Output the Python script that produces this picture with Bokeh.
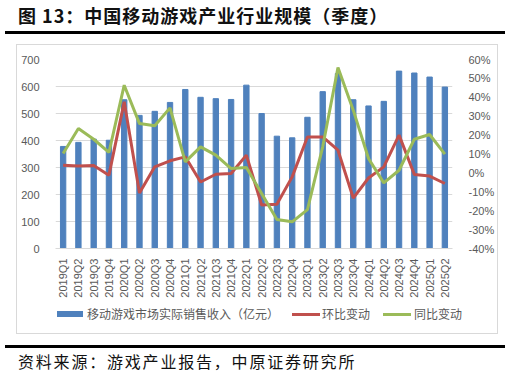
import math
from bokeh.plotting import figure
from bokeh.layouts import column, row
from bokeh.models import (FactorRange, Range1d, LinearAxis, SingleIntervalTicker,
                          PrintfTickFormatter, Div, Spacer)
from bokeh.embed import file_html
from bokeh.resources import INLINE

quarters = ["2019Q1", "2019Q2", "2019Q3", "2019Q4", "2020Q1", "2020Q2", "2020Q3", "2020Q4",
            "2021Q1", "2021Q2", "2021Q3", "2021Q4", "2022Q1", "2022Q2", "2022Q3", "2022Q4",
            "2023Q1", "2023Q2", "2023Q3", "2023Q4", "2024Q1", "2024Q2", "2024Q3", "2024Q4",
            "2025Q1", "2025Q2"]
revenue = [378, 393, 405, 401, 551, 493, 508, 541, 589, 560, 555, 552, 605, 500, 416, 410,
           486, 581, 648, 551, 528, 545, 657, 650, 635, 598]
qoq = [4.1, 3.7, 3.9, -1.2, 37.6, -10.6, 3.2, 6.4, 8.5, -4.8, -0.7, -0.3, 9.4, -17.0, -16.6,
       -2.1, 19.0, 19.0, 12.0, -13.3, -2.7, 3.2, 20.0, -0.8, -1.7, -5.6]
yoy = [10.3, 23.5, 17.8, 10.8, 46.4, 26.1, 24.9, 34.4, 5.8, 13.8, 9.4, 2.3, 2.9, -10.9, -24.7,
       -25.9, -19.4, 13.8, 55.8, 33.2, 7.6, -5.3, 1.4, 17.8, 20.3, 9.9]

title_text = "图 13：中国移动游戏产业行业规模（季度）"
source_text = "资料来源：游戏产业报告，中原证券研究所"
legend_labels = ["移动游戏市场实际销售收入（亿元）", "环比变动", "同比变动"]

BLUE = "#4F81BD"
RED = "#C0504D"
GREEN = "#9BBB59"
GRAY_TXT = "#595959"
GRID = "#D9D9D9"
CJK = "Noto Sans CJK SC"
LAT = "Liberation Sans"

title_div = Div(text=title_text, width=500, height=34, margin=(0, 5, 0, 5),
                styles={"font-family": CJK, "font-size": "18px", "font-weight": "bold",
                        "letter-spacing": "1px", "color": "#111111", "line-height": "31px",
                        "padding-left": "13px", "border-bottom": "3px solid black"})

# main chart
p = figure(width=480, height=257, x_range=FactorRange(*quarters, range_padding=0),
           y_range=Range1d(0, 700), output_backend="svg", toolbar_location=None,
           min_border_left=38, min_border_right=44, min_border_top=14, min_border_bottom=54)
p.outline_line_color = None
p.background_fill_color = "white"
p.border_fill_color = "white"
p.extra_y_ranges = {"pct": Range1d(-40, 60)}

bars = p.vbar(x=quarters, top=revenue, width=0.35, color=BLUE)
l1 = p.line(x=quarters, y=qoq, y_range_name="pct", line_color=RED, line_width=3)
l2 = p.line(x=quarters, y=yoy, y_range_name="pct", line_color=GREEN, line_width=3)

ly = p.yaxis[0]
ly.ticker = SingleIntervalTicker(interval=100)
ry = LinearAxis(y_range_name="pct", ticker=SingleIntervalTicker(interval=10),
                formatter=PrintfTickFormatter(format="%d%%"))
p.add_layout(ry, "right")
for ax in [ly, ry]:
    ax.axis_line_color = None
    ax.major_tick_line_color = None
    ax.minor_tick_line_color = None
    ax.major_label_text_color = GRAY_TXT
    ax.major_label_text_font = LAT
    ax.major_label_text_font_size = "11px"
    ax.major_label_standoff = 10

xa = p.xaxis[0]
xa.axis_line_color = GRID
xa.major_tick_line_color = None
xa.minor_tick_line_color = None
xa.major_label_orientation = math.pi / 2
xa.major_label_text_color = GRAY_TXT
xa.major_label_text_font = LAT
xa.major_label_text_font_size = "11px"
xa.major_label_standoff = 4

p.xgrid.grid_line_color = None
p.ygrid.grid_line_color = GRID

# legend strip under the chart
def swatch(left, width, height, color):
    return (f'<span style="position:absolute;left:{left}px;top:{12 - height / 2}px;'
            f'width:{width}px;height:{height}px;background:{color};"></span>')

def label(left, text):
    return (f'<span style="position:absolute;left:{left}px;top:0px;line-height:24px;'
            f'white-space:nowrap;">{text}</span>')

legend_html = ('<div style="position:relative;width:480px;height:31px;">'
               + swatch(40, 26, 6, BLUE) + label(70, legend_labels[0])
               + swatch(275, 28, 3, RED) + label(305, legend_labels[1])
               + swatch(366, 28, 3, GREEN) + label(397, legend_labels[2])
               + '</div>')
legend_div = Div(text=legend_html, width=480, height=31, margin=0,
                 styles={"font-family": CJK, "font-size": "12px", "color": GRAY_TXT,
                         "background": "white"})

box = column(p, legend_div, spacing=0, styles={"border": "1px solid #D9D9D9"})

source_div = Div(text=source_text, width=500, height=31, margin=(0, 5, 0, 5),
                 styles={"font-family": CJK, "font-size": "16px", "letter-spacing": "1.8px",
                         "color": "#111111", "line-height": "27px", "padding-left": "13px",
                         "border-top": "3px solid black"})

layout = column(title_div, Spacer(height=10), row(Spacer(width=16), box, spacing=0),
                Spacer(height=11), source_div, width=510, spacing=0)

open("out.html", "w").write(file_html(layout, INLINE))
